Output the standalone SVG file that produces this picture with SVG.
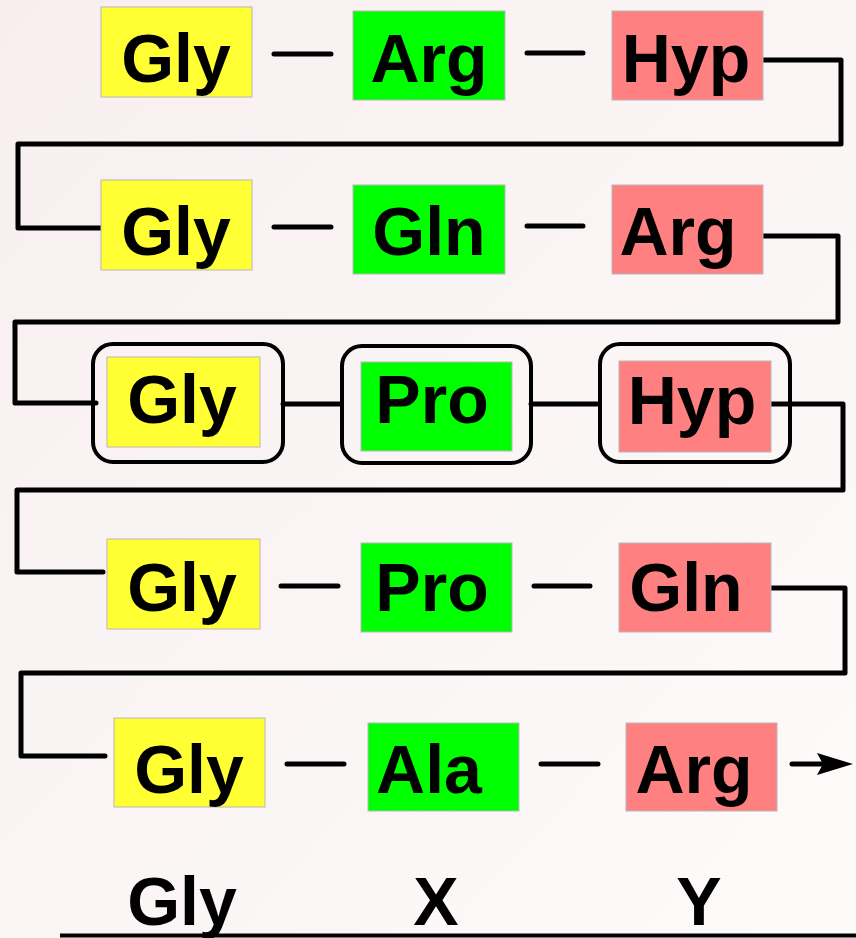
<svg xmlns="http://www.w3.org/2000/svg" width="856" height="938" viewBox="0 0 856 938">
<defs>
<linearGradient id="bg" x1="0" y1="0" x2="1" y2="1">
<stop offset="0" stop-color="#f8eef0"/>
<stop offset="1" stop-color="#fdfbfa"/>
</linearGradient>
<marker id="ah" markerUnits="userSpaceOnUse" markerWidth="40" markerHeight="26" refX="12" refY="12" orient="auto">
<path d="M36,12 L0,1 L6,12 L0,23 Z" fill="#000"/>
</marker>
</defs>
<style>
.box{stroke:#b8b8b8;stroke-width:1}
.g{fill:#ffff33}
.x{fill:#00ff00}
.y{fill:#ff8080}
.t{font-family:"Liberation Sans",Arial,sans-serif;font-weight:bold;font-size:68px;fill:#000;text-anchor:middle}
.c{fill:none;stroke:#000;stroke-width:5;stroke-linejoin:round;stroke-linecap:round}
.d{fill:none;stroke:#000;stroke-width:5;stroke-linecap:round}
.r{fill:none;stroke:#000;stroke-width:4}
</style>
<rect width="856" height="938" fill="url(#bg)"/>

<g id="connectors">
<path class="c" d="M760,60 H841 V144 H18 V228 H102"/>
<path class="c" d="M756,236 H838 V322 H15 V403 H96"/>
<path class="c" d="M761,404 H843 V490 H17 V572 H103"/>
<path class="c" d="M763,588 H845 V673 H21 V756 H105"/>
<path class="d" d="M274,54 H331 M527,53 H583"/>
<path class="d" d="M274,227 H331 M527,226 H583"/>
<path class="d" d="M283,404 H341 M531,404 H597"/>
<path class="d" d="M281,586 H338 M534,586 H590"/>
<path class="d" d="M287,764 H344 M541,764 H598"/>
<path class="d" d="M792,764 H829" marker-end="url(#ah)"/>
</g>

<g id="r1-gly"><rect class="box g" x="101" y="7" width="151" height="90"/><text class="t" x="176" y="82">Gly</text></g>
<g id="r1-arg"><rect class="box x" x="353" y="11" width="152" height="89"/><text class="t" x="429" y="82">Arg</text></g>
<g id="r1-hyp"><rect class="box y" x="612" y="11" width="151" height="89"/><text class="t" x="686" y="82">Hyp</text></g>

<g id="r2-gly"><rect class="box g" x="101" y="180" width="151" height="90"/><text class="t" x="176" y="255">Gly</text></g>
<g id="r2-gln"><rect class="box x" x="353" y="185" width="152" height="89"/><text class="t" x="429" y="255">Gln</text></g>
<g id="r2-arg"><rect class="box y" x="612" y="185" width="151" height="89"/><text class="t" x="678" y="255">Arg</text></g>

<g id="r3-gly"><rect class="r" x="93" y="344" width="190" height="118" rx="20"/><rect class="box g" x="107" y="357" width="153" height="90"/><text class="t" x="182" y="423">Gly</text></g>
<g id="r3-pro"><rect class="r" x="342" y="346" width="189" height="117" rx="20"/><rect class="box x" x="361" y="362" width="151" height="89"/><text class="t" x="432" y="423">Pro</text></g>
<g id="r3-hyp"><rect class="r" x="600" y="344" width="190" height="118" rx="20"/><rect class="box y" x="619" y="361" width="152" height="91"/><text class="t" x="692" y="424">Hyp</text></g>

<g id="r4-gly"><rect class="box g" x="107" y="539" width="153" height="90"/><text class="t" x="182" y="611">Gly</text></g>
<g id="r4-pro"><rect class="box x" x="361" y="543" width="151" height="89"/><text class="t" x="432" y="611">Pro</text></g>
<g id="r4-gln"><rect class="box y" x="619" y="543" width="152" height="89"/><text class="t" x="686" y="611">Gln</text></g>

<g id="r5-gly"><rect class="box g" x="114" y="718" width="151" height="89"/><text class="t" x="189" y="793">Gly</text></g>
<g id="r5-ala"><rect class="box x" x="368" y="723" width="151" height="88"/><text class="t" x="429" y="793">Ala</text></g>
<g id="r5-arg"><rect class="box y" x="626" y="723" width="151" height="88"/><text class="t" x="694" y="793">Arg</text></g>

<g id="legend">
<text class="t" x="182" y="925">Gly</text>
<text class="t" x="436" y="925">X</text>
<text class="t" x="699" y="925">Y</text>
<line x1="60" y1="935.5" x2="856" y2="935.5" stroke="#000" stroke-width="4"/>
</g>
</svg>
